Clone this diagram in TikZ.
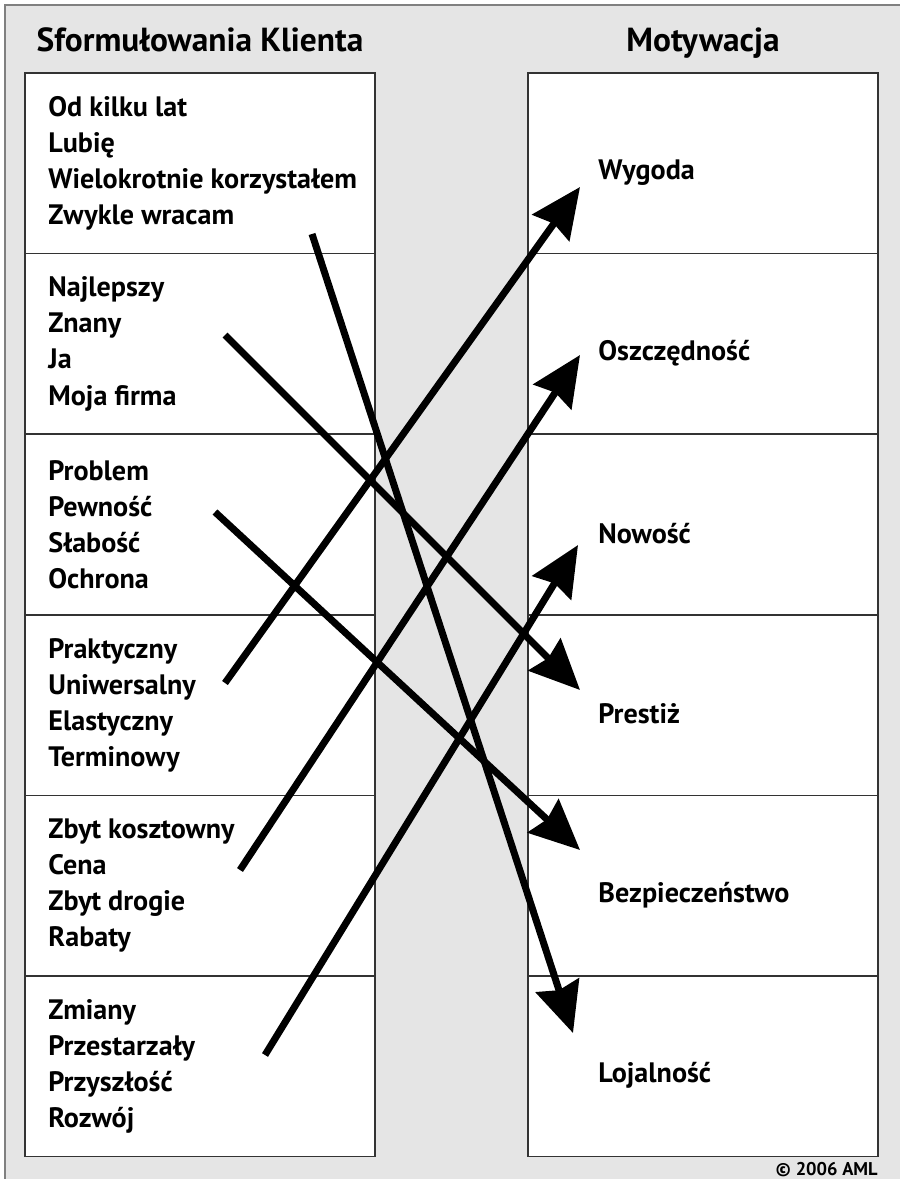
\documentclass[tikz,border=0pt]{standalone}
\usepackage{fontspec}
\setmainfont{PT Sans}
\usetikzlibrary{arrows.meta,calc,positioning}

\begin{document}
\begin{tikzpicture}[x=0.02cm,y=-0.02cm,>=Stealth]
    \tikzset{
      cell/.style={draw=black!80, line width=0.03cm, fill=white, minimum width=7cm, minimum height=3.613cm, outer sep=0pt},
      said/.style={anchor=west, align=left, inner sep=0pt, font=\fontsize{16}{20.5}\selectfont\bfseries},
      motive/.style={anchor=west, inner sep=0pt, font=\fontsize{16}{20.5}\selectfont\bfseries},
      head/.style={anchor=base, font=\fontsize{19}{24}\selectfont\bfseries},
      link/.style={-{Stealth[length=1cm, width=0.9cm, inset=0.1cm]}, line width=0.14cm}
    }
    \useasboundingbox (0,0) rectangle (900,1179);
    \fill[black!10] (5,5) rectangle (900,1179);
    \draw[black!50, line width=0.04cm] (5,1179) -- (5,5) -- (900,5);

    \node[head] (lhead) at (200,52) {Sformułowania Klienta};
    \node[head] (rhead) at (703,52) {Motywacja};

    \node[cell] (l1) at (200,163.3) {};
    \node[cell, below=0pt of l1] (l2) {};
    \node[cell, below=0pt of l2] (l3) {};
    \node[cell, below=0pt of l3] (l4) {};
    \node[cell, below=0pt of l4] (l5) {};
    \node[cell, below=0pt of l5] (l6) {};
    \node[said] (habit) at ($(l1.west)+(23,0)$) {Od kilku lat\\Lubię\\Wielokrotnie korzystałem\\Zwykle wracam};
    \node[said] (fame) at ($(l2.west)+(23,0)$) {Najlepszy\\Znany\\Ja\\Moja firma};
    \node[said] (risk) at ($(l3.west)+(23,0)$) {Problem\\Pewność\\Słabość\\Ochrona};
    \node[said] (use) at ($(l4.west)+(23,0)$) {Praktyczny\\Uniwersalny\\Elastyczny\\Terminowy};
    \node[said] (price) at ($(l5.west)+(23,0)$) {Zbyt kosztowny\\Cena\\Zbyt drogie\\Rabaty};
    \node[said] (change) at ($(l6.west)+(23,0)$) {Zmiany\\Przestarzały\\Przyszłość\\Rozwój};

    \node[cell] (r1) at (703,163.3) {};
    \node[cell, below=0pt of r1] (r2) {};
    \node[cell, below=0pt of r2] (r3) {};
    \node[cell, below=0pt of r3] (r4) {};
    \node[cell, below=0pt of r4] (r5) {};
    \node[cell, below=0pt of r5] (r6) {};
    \node[motive] (wygoda) at ($(r1.west)+(70,9)$) {Wygoda};
    \node[motive] (oszczednosc) at ($(r2.west)+(70,9)$) {Oszczędność};
    \node[motive] (nowosc) at ($(r3.west)+(70,9)$) {Nowość};
    \node[motive] (prestiz) at ($(r4.west)+(70,9)$) {Prestiż};
    \node[motive] (bezpieczenstwo) at ($(r5.west)+(70,9)$) {Bezpieczeństwo};
    \node[motive] (lojalnosc) at ($(r6.west)+(70,9)$) {Lojalność};

    \node[anchor=base east, inner sep=0pt, font=\fontsize{10.5}{12}\selectfont\bfseries] (copy) at (878,1175) {© 2006 AML};

    % arrow ends
    \coordinate (from1) at (312,234);
    \coordinate (from2) at (225,335);
    \coordinate (from3) at (215,512);
    \coordinate (from4) at (225,683);
    \coordinate (from5) at (240,870);
    \coordinate (from6) at (265,1055);
    \coordinate (to1) at (580,187);
    \coordinate (to2) at (580,355);
    \coordinate (to3) at (578,545);
    \coordinate (to4) at (580,690);
    \coordinate (to5) at (580,850);
    \coordinate (to6) at (573,1033);

    \draw[link] (from1) -- (to6);
    \draw[link] (from2) -- (to4);
    \draw[link] (from3) -- (to5);
    \draw[link] (from4) -- (to1);
    \draw[link] (from5) -- (to2);
    \draw[link] (from6) -- (to3);
  \end{tikzpicture}
\end{document}
